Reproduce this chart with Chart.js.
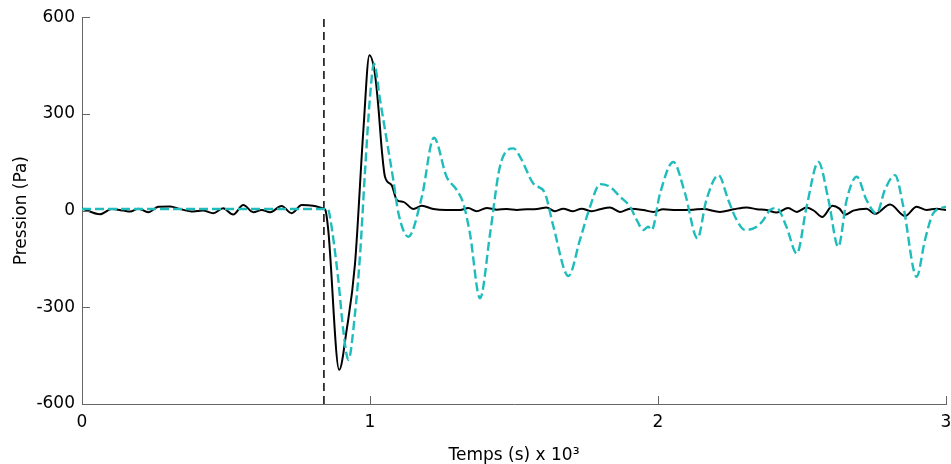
<!DOCTYPE html>
<html>
<head>
<meta charset="utf-8">
<script src="https://cdn.jsdelivr.net/npm/chart.js@4"></script>
<style>
    html, body { margin: 0; padding: 0; background: #fff; }
    #cadre { width: 951px; height: 464px; }
</style>
</head>
<body>
<div id="cadre"><canvas data-js="grafico-pression"></canvas></div>
<script>
// temps en s x 10^3, pression en Pa
const tempsNoir = [0, 0.063, 0.103, 0.144, 0.167, 0.196, 0.23, 0.265, 0.306, 0.34, 0.386, 0.42, 0.456, 0.49, 0.525, 0.56, 0.595, 0.624, 0.653, 0.693, 0.728, 0.763, 0.802, 0.837, 0.845, 0.855, 0.893, 0.919, 0.948, 0.977, 0.998, 1.017, 1.029, 1.041, 1.052, 1.075, 1.093, 1.116, 1.151, 1.18, 1.22, 1.265, 1.313, 1.341, 1.37, 1.405, 1.44, 1.475, 1.51, 1.544, 1.58, 1.613, 1.642, 1.671, 1.705, 1.735, 1.77, 1.799, 1.833, 1.868, 1.903, 1.949, 1.984, 2.018, 2.064, 2.122, 2.157, 2.215, 2.262, 2.308, 2.343, 2.377, 2.412, 2.452, 2.482, 2.516, 2.544, 2.57, 2.606, 2.63, 2.649, 2.678, 2.724, 2.753, 2.806, 2.858, 2.898, 2.933, 2.967, 3];
const pressionNoir = [7, -11, 5, 0, -3, 6, -5, 12, 13, 5, -3, 0, -8, 7, -12, 17, -5, 2, -5, 14, -8, 17, 15, 7, 2, -60, -494, -370, -164, 250, 482, 425, 322, 188, 105, 79, 33, 27, 5, 15, 5, 2, 2, 8, -2, 8, 3, 5, 2, 4, 5, 10, -2, 6, -2, 6, -2, 4, 10, -4, 6, 2, -4, 4, 2, 3, 5, -4, 4, 10, 4, 2, -6, 8, -4, 10, -2, -20, 15, 6, -13, 0, 6, -10, 19, -17, 12, 2, 6, 2];

const tempsCyan = [0, 0.3, 0.6, 0.854, 0.861, 0.89, 0.907, 0.925, 0.948, 0.965, 0.983, 1.0, 1.014, 1.035, 1.058, 1.081, 1.099, 1.133, 1.18, 1.222, 1.266, 1.301, 1.324, 1.347, 1.382, 1.417, 1.451, 1.498, 1.521, 1.567, 1.584, 1.608, 1.637, 1.689, 1.729, 1.764, 1.799, 1.833, 1.868, 1.903, 1.926, 1.949, 1.966, 1.978, 2.007, 2.053, 2.094, 2.137, 2.168, 2.21, 2.244, 2.273, 2.302, 2.343, 2.366, 2.389, 2.412, 2.446, 2.482, 2.516, 2.557, 2.592, 2.626, 2.655, 2.69, 2.724, 2.759, 2.788, 2.823, 2.852, 2.898, 2.927, 2.956, 3];
const pressionCyan = [5, 5, 5, 5, -19, -215, -370, -463, -319, -143, 126, 353, 456, 343, 219, 95, -9, -81, 43, 226, 105, 64, 22, -71, -272, -71, 136, 193, 167, 84, 74, 53, -50, -203, -91, 12, 82, 74, 43, 12, -29, -60, -50, -60, 53, 151, 53, -86, 33, 110, 33, -29, -60, -50, -29, 2, 8, -50, -133, 12, 151, 33, -112, 33, 105, 33, -9, 65, 110, 12, -205, -91, -8, 12];

// instant de declenchement (ligne verticale)
const tempsRepere = [0.84, 0.84];
const pressionRepere = [-600, 600];

const ticksX = [0, 1, 2, 3];
const ticksY = [-600, -300, 0, 300, 600];

function paraPontos(xs, ys) {
    return xs.map((x, i) => ({ x: x, y: ys[i] }));
}

const police = { family: '"DejaVu Sans", Arial, sans-serif', size: 17 };

// petits traits de graduation vers l'interieur, facon MATLAB
const tracosInternos = {
    id: 'tracosInternos',
    afterDraw(chart) {
        const ctx = chart.ctx;
        const { x, y } = chart.scales;
        ctx.save();
        ctx.strokeStyle = '#666';
        ctx.lineWidth = 1;
        ctx.beginPath();
        x.ticks.forEach((t) => {
            const px = Math.round(x.getPixelForValue(t.value)) + 0.5;
            ctx.moveTo(px, y.bottom);
            ctx.lineTo(px, y.bottom - 8);
        });
        y.ticks.forEach((t) => {
            const py = Math.round(y.getPixelForValue(t.value)) + 0.5;
            ctx.moveTo(x.left, py);
            ctx.lineTo(x.left + 8, py);
        });
        ctx.stroke();
        ctx.restore();
    }
};

const elemento = document.querySelector('[data-js="grafico-pression"]');

const grafico = new Chart(elemento, {
    type: 'line',
    data: {
        datasets: [
            {
                label: 'Repere',
                data: paraPontos(tempsRepere, pressionRepere),
                borderColor: '#000',
                borderWidth: 1.5,
                borderDash: [8, 5],
                pointRadius: 0,
                order: 3
            },
            {
                label: 'Cyan',
                data: paraPontos(tempsCyan, pressionCyan),
                borderColor: '#1fbcbc',
                borderWidth: 2.4,
                borderDash: [9, 4],
                pointRadius: 0,
                cubicInterpolationMode: 'monotone',
                order: 1
            },
            {
                label: 'Noir',
                data: paraPontos(tempsNoir, pressionNoir),
                borderColor: '#000',
                borderWidth: 2,
                pointRadius: 0,
                cubicInterpolationMode: 'monotone',
                order: 2
            }
        ]
    },
    options: {
        responsive: true,
        maintainAspectRatio: false,
        animation: false,
        layout: { padding: { top: 17, right: 5, bottom: 0, left: 0 } },
        plugins: {
            legend: { display: false },
            tooltip: { enabled: false }
        },
        scales: {
            x: {
                type: 'linear',
                min: 0,
                max: 3,
                afterBuildTicks: (scale) => { scale.ticks = ticksX.map((v) => ({ value: v })); },
                afterFit: (scale) => {
                    scale.height = 60;
                    scale.paddingLeft = 0;
                    scale.paddingRight = 0;
                },
                grid: { display: false, drawTicks: false },
                border: { display: true, color: '#666', width: 1 },
                ticks: { color: '#000', font: police, padding: 8, maxRotation: 0 },
                title: {
                    display: true,
                    text: 'Temps (s) x 10³',
                    color: '#000',
                    font: { ...police, lineHeight: 1 },
                    padding: { top: 0, bottom: 0 }
                }
            },
            y: {
                type: 'linear',
                min: -600,
                max: 600,
                afterBuildTicks: (scale) => { scale.ticks = ticksY.map((v) => ({ value: v })); },
                afterFit: (scale) => { scale.width = 82; },
                grid: { display: false, drawTicks: false },
                border: { display: true, color: '#666', width: 1 },
                ticks: { color: '#000', font: police, padding: 7 },
                title: {
                    display: true,
                    text: 'Pression (Pa)',
                    color: '#000',
                    font: { ...police, lineHeight: 1 },
                    padding: { top: 13, bottom: 0 }
                }
            }
        }
    },
    plugins: [tracosInternos]
});
</script>
</body>
</html>
